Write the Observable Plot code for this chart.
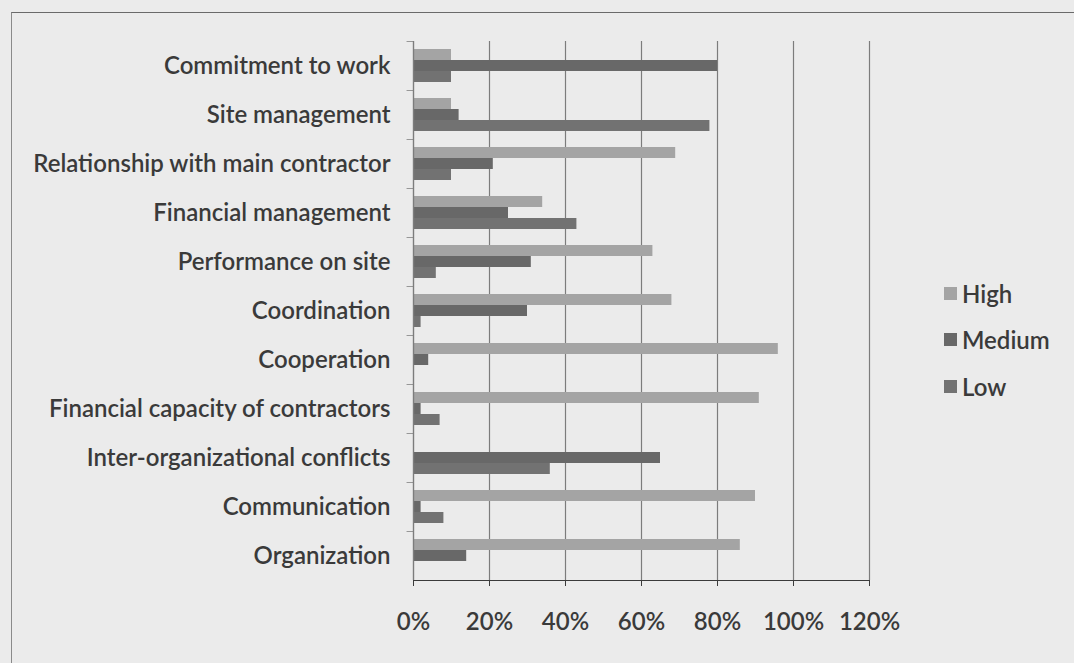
<!DOCTYPE html>
<html>
<head>
<meta charset="utf-8">
<script src="https://cdn.jsdelivr.net/npm/d3@7"></script>
<script src="https://cdn.jsdelivr.net/npm/@observablehq/plot@0.6"></script>
<style>
  html, body { margin: 0; padding: 0; background: #ebebeb; width: 1074px; height: 663px; overflow: hidden; }
  #wrap { position: relative; width: 1074px; height: 663px; overflow: hidden; font-family: Lato, "Open Sans", sans-serif; color: #3a3a3a; }
  #border { position: absolute; left: 11px; top: 12px; width: 1200px; height: 800px; border-top: 1.5px solid #6a6a6a; border-left: 1.5px solid #8a8a8a; box-sizing: border-box; }
  #chart { position: absolute; left: 0; top: 0; }
  #legend { position: absolute; left: 944px; top: 270px; font-size: 24px; font-weight: 600; }
  #legend .row { display: flex; align-items: center; height: 46.5px; }
  #legend .sw { width: 13px; height: 13px; margin-right: 5px; }
</style>
</head>
<body>
<div id="wrap">
  <div id="border"></div>
  <div id="chart"></div>
  <div id="legend"></div>
</div>
<script>
const categories = [
  "Commitment to work",
  "Site management",
  "Relationship with main contractor",
  "Financial management",
  "Performance on site",
  "Coordination",
  "Cooperation",
  "Financial capacity of contractors",
  "Inter-organizational conflicts",
  "Communication",
  "Organization"
];
const series = ["High", "Medium", "Low"];
const highValues   = [10, 10, 69, 34, 63, 68, 96, 91, 0, 90, 86];
const mediumValues = [80, 12, 21, 25, 31, 30, 4, 2, 65, 2, 14];
const lowValues    = [10, 78, 10, 43, 6, 2, 0, 7, 36, 8, 0];
const xTicks = [0, 20, 40, 60, 80, 100, 120];
const colors = ["#a4a4a4", "#686868", "#727272"];

const valuesBySeries = [highValues, mediumValues, lowValues];
const rows = [];
series.forEach((s, si) => {
  categories.forEach((c, ci) => {
    rows.push({category: c, series: s, value: valuesBySeries[si][ci]});
  });
});

const W = 900, H = 650, mt = 38, mb = 67;
const facetH = (H - mt - mb) / categories.length;

const chart = Plot.plot({
  width: W,
  height: H,
  marginLeft: 413,
  marginRight: 31,
  marginTop: mt,
  marginBottom: mb,
  style: {background: "transparent", fontFamily: "Lato, 'Open Sans', sans-serif", fontSize: "24px", fontWeight: 600, color: "#3a3a3a", overflow: "visible"},
  x: {domain: [0, 120], ticks: xTicks, tickFormat: d => d + "%", tickSize: 6, tickPadding: 26, label: null, line: true},
  y: {domain: series, axis: null, paddingInner: 0.04, paddingOuter: 0.72},
  fy: {domain: categories, axis: "left", label: null, tickSize: 0, tickPadding: 23, padding: 0},
  color: {domain: series, range: colors},
  marks: [
    Plot.ruleX(xTicks.slice(1), {stroke: "#7c7c7c", strokeWidth: 1.2}),
    Plot.barX(rows, {fy: "category", y: "series", x: "value", fill: "series"}),
    Plot.ruleX([0], {stroke: "#7c7c7c", strokeWidth: 1.4}),
    Plot.barX(categories, {fy: d => d, x1: -1.7, x2: 0, fill: "#7c7c7c", insetBottom: facetH - 1.3})
  ]
});
document.getElementById("chart").appendChild(chart);

const legend = document.getElementById("legend");
series.forEach((s, i) => {
  const row = document.createElement("div");
  row.className = "row";
  const sw = document.createElement("div");
  sw.className = "sw";
  sw.style.background = colors[i];
  const t = document.createElement("span");
  t.textContent = s;
  row.appendChild(sw);
  row.appendChild(t);
  legend.appendChild(row);
});
</script>
</body>
</html>
